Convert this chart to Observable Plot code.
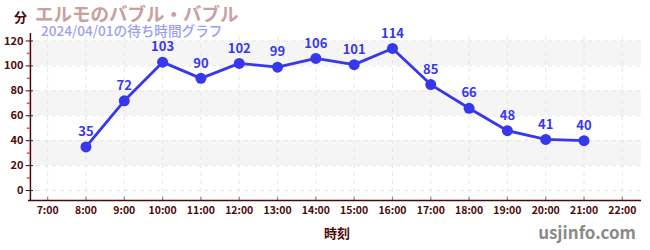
<!DOCTYPE html>
<html><head><meta charset="utf-8">
<script src="https://cdn.jsdelivr.net/npm/d3@7"></script>
<script src="https://cdn.jsdelivr.net/npm/@observablehq/plot@0.6"></script>
<style>
body{margin:0;background:#fff;}
svg{font-family:"Noto Sans CJK JP","Noto Sans",sans-serif;}
</style></head>
<body><div id="chart"></div>
<script>
const hours = [8,9,10,11,12,13,14,15,16,17,18,19,20,21];
const waits = [35,72,103,90,102,99,106,101,114,85,66,48,41,40];
const tickHours = d3.range(7,23);
const tickLabels = tickHours.map(h => h + ":00");
const yTicks = [0,20,40,60,80,100,120];
const yMinor = [10,30,50,70,90,110];
const bands = [[20,40],[60,80],[100,120]];
const title = "エルモのバブル・バブル";
const subtitle = "2024/04/01の待ち時間グラフ";
const unitLabel = "分";
const xLabel = "時刻";
const credit = "usjinfo.com";

const data = hours.map((h,i)=>({h, v: waits[i]}));
const axisColor = "#4d0a0a";
const blue = "#3737ee";
const X0 = 6.5, X1 = 22.5, Y0 = -8, Y1 = 126;

const chart = Plot.plot({
  width: 650, height: 250,
  marginLeft: 28, marginRight: 9, marginTop: 33, marginBottom: 50,
  x: {type: "linear", domain: [X0, X1], axis: null},
  y: {type: "linear", domain: [Y0, Y1], axis: null},
  style: {fontFamily: '"Noto Sans CJK JP", sans-serif', background: "#fff"},
  marks: [
    Plot.rect(bands, {x1: () => X0, x2: () => X1, y1: d => d[0], y2: d => d[1], fill: "#f5f5f5"}),
    Plot.ruleX(tickHours, {x: d => d, y1: () => Y0, y2: () => Y1, stroke: "#e6e6e6", strokeDasharray: "4,4"}),
    Plot.ruleY(yTicks, {y: d => d, x1: () => X0, x2: () => X1, stroke: "#e6e6e6", strokeDasharray: "4,4"}),
    Plot.ruleX(tickHours, {x: d => d, y1: () => Y0, y2: () => Y0 + 2.6, stroke: "#8a8a8a", strokeWidth: 1.2}),
    Plot.ruleX([X0 + 0.05], {x: d => d, y1: () => Y0, y2: () => Y1, stroke: axisColor, strokeWidth: 1.5}),
    Plot.ruleY([Y0], {y: d => d, x1: () => X0, x2: () => X1, stroke: axisColor, strokeWidth: 1.5}),
    Plot.ruleY(yMinor, {y: d => d, x1: () => X0 - 0.03, x2: () => X0 + 0.05, stroke: "#e05050", strokeWidth: 1.5}),
    Plot.ruleY(yTicks, {y: d => d, x1: () => X0 - 0.06, x2: () => X0 + 0.13, stroke: axisColor, strokeWidth: 1}),
    Plot.axisY({ticks: yTicks, tickSize: 0, tickPadding: 5, color: axisColor, fontSize: 11, fontWeight: "bold", anchor: "left", label: null, tickFormat: d => String(d)}),
    Plot.axisX({ticks: tickHours, tickSize: 0, tickPadding: 6, color: axisColor, fontSize: 10.5, fontWeight: "bold", anchor: "bottom", label: null, tickFormat: d => tickLabels[tickHours.indexOf(d)]}),
    Plot.line(data, {x: "h", y: "v", stroke: blue, strokeWidth: 2.8}),
    Plot.dot(data, {x: "h", y: "v", fill: blue, r: 5.5}),
    Plot.text(data, {x: "h", y: "v", text: d => String(d.v), dy: -15, fill: blue, fontSize: 13, fontWeight: "bold"})
  ]
});
document.getElementById("chart").appendChild(chart);

const svg = d3.select(chart);
const add = (x, y, anchor, fill, size, weight, txt) => svg.append("text").attr("x", x).attr("y", y)
  .attr("text-anchor", anchor).attr("fill", fill).attr("font-size", size).attr("font-weight", weight).text(txt);
add(14, 22, "start", axisColor, 13, "bold", unitLabel);
add(35, 21, "start", "#c9a0a0", 18.5, "bold", title);
add(41, 36, "start", "#9d9ff0", 13.6, "500", subtitle);
add(337, 238, "middle", axisColor, 13, "bold", xLabel);
add(636, 239, "end", "#8a8a8a", 17, "bold", credit);
</script></body></html>
